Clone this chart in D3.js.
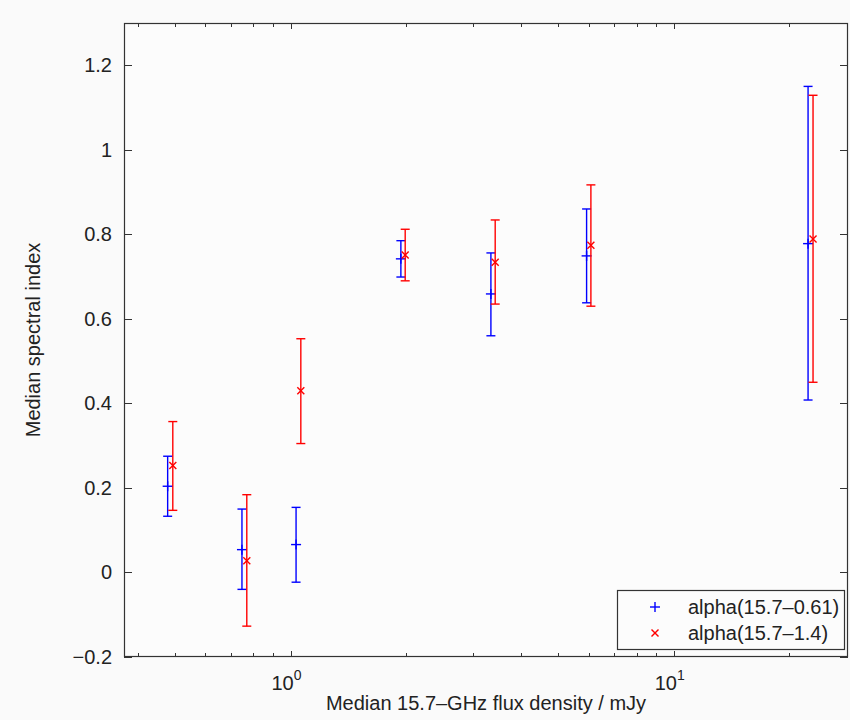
<!DOCTYPE html>
<html>
<head>
<meta charset="utf-8">
<script src="https://cdn.jsdelivr.net/npm/d3@7"></script>
<style>
  html, body { margin: 0; padding: 0; background: #fafafa; }
  svg { display: block; }
  text { font-family: "Liberation Sans", Arial, Helvetica, sans-serif; fill: #222; }
</style>
</head>
<body>
<svg id="chart" width="850" height="720"></svg>
<script>
// ---- data ----
const xBlue  = [0.478, 0.747, 1.034, 1.941, 3.334, 5.925, 22.42];
const yBlue  = [0.204, 0.054, 0.066, 0.742, 0.659, 0.749, 0.778];
const loBlue = [0.133, -0.040, -0.023, 0.699, 0.560, 0.638, 0.408];
const hiBlue = [0.275, 0.150, 0.154, 0.785, 0.756, 0.860, 1.150];

const xRed  = [0.493, 0.769, 1.064, 1.992, 3.421, 6.080, 23.10];
const yRed  = [0.253, 0.028, 0.430, 0.751, 0.734, 0.774, 0.789];
const loRed = [0.147, -0.127, 0.305, 0.690, 0.635, 0.630, 0.450];
const hiRed = [0.357, 0.184, 0.553, 0.812, 0.834, 0.917, 1.129];

const seriesNames = ["alpha(15.7\u20130.61)", "alpha(15.7\u20131.4)"];
const yTicks = [-0.2, 0, 0.2, 0.4, 0.6, 0.8, 1, 1.2];
const yTickLabels = ["\u22120.2", "0", "0.2", "0.4", "0.6", "0.8", "1", "1.2"];
const xMajorTicks = [1, 10];
const xMajorExp = ["0", "1"];
const xMinorTicks = [0.4, 0.5, 0.6, 0.7, 0.8, 0.9, 2, 3, 4, 5, 6, 7, 8, 9, 20];
const xLabel = "Median 15.7\u2013GHz flux density / mJy";
const yLabel = "Median spectral index";

// ---- layout ----
const L = 124, R = 848, T = 23, B = 657;
const FS = 20;
const svg = d3.select("#chart");
const x = d3.scaleLog().domain([0.3677, 28.5]).range([L, R]);
const y = d3.scaleLinear().domain([-0.2, 1.3]).range([B, T]);

svg.append("rect").attr("x", 0).attr("y", 0).attr("width", 850).attr("height", 720).attr("fill", "#fafafa");
svg.append("rect").attr("x", L).attr("y", T).attr("width", R - L).attr("height", B - T).attr("fill", "#fcfcfc");

const axisColor = "#333";
const ax = svg.append("g").attr("stroke", axisColor).attr("stroke-width", 1).attr("fill", "none");

// y ticks (left and right, inward)
yTicks.forEach(v => {
  const yy = Math.round(y(v)) + 0.5;
  ax.append("line").attr("x1", L).attr("x2", L + 8).attr("y1", yy).attr("y2", yy);
  ax.append("line").attr("x1", R).attr("x2", R - 8).attr("y1", yy).attr("y2", yy);
});
// x ticks (bottom and top, inward)
xMajorTicks.forEach(v => {
  const xx = Math.round(x(v)) + 0.5;
  ax.append("line").attr("x1", xx).attr("x2", xx).attr("y1", B).attr("y2", B - 6);
  ax.append("line").attr("x1", xx).attr("x2", xx).attr("y1", T).attr("y2", T + 6);
});
xMinorTicks.forEach(v => {
  const xx = Math.round(x(v)) + 0.5;
  ax.append("line").attr("x1", xx).attr("x2", xx).attr("y1", B).attr("y2", B - 4);
  ax.append("line").attr("x1", xx).attr("x2", xx).attr("y1", T).attr("y2", T + 4);
});

// y tick labels
yTicks.forEach((v, i) => {
  svg.append("text").attr("x", L - 12).attr("y", y(v)).attr("dy", "0.35em")
    .attr("text-anchor", "end").attr("font-size", FS).text(yTickLabels[i]);
});
// x tick labels with superscript exponent
xMajorTicks.forEach((v, i) => {
  const t = svg.append("text").attr("x", x(v) - 4).attr("y", 690)
    .attr("text-anchor", "middle").attr("font-size", FS);
  t.append("tspan").text("10");
  t.append("tspan").attr("dy", -10).attr("font-size", 14).text(xMajorExp[i]);
});

// axis titles
svg.append("text").attr("x", (L + R) / 2).attr("y", 710).attr("text-anchor", "middle")
  .attr("font-size", FS).text(xLabel);
svg.append("text").attr("transform", `translate(40,${(T + B) / 2}) rotate(-90)`)
  .attr("text-anchor", "middle").attr("font-size", FS).text(yLabel);

// ---- error bars ----
function drawSeries(xs, ys, lo, hi, color, marker) {
  const g = svg.append("g").attr("stroke", color).attr("stroke-width", 1.4).attr("fill", "none");
  xs.forEach((xv, i) => {
    const cx = x(xv);
    g.append("line").attr("x1", cx).attr("x2", cx).attr("y1", y(lo[i])).attr("y2", y(hi[i]));
    g.append("line").attr("x1", cx - 4.5).attr("x2", cx + 4.5).attr("y1", y(lo[i])).attr("y2", y(lo[i]));
    g.append("line").attr("x1", cx - 4.5).attr("x2", cx + 4.5).attr("y1", y(hi[i])).attr("y2", y(hi[i]));
    drawMarker(g, marker, cx, y(ys[i]));
  });
}
function drawMarker(g, marker, cx, cy) {
  if (marker === "plus") {
    g.append("line").attr("x1", cx - 5).attr("x2", cx + 5).attr("y1", cy).attr("y2", cy);
    g.append("line").attr("x1", cx).attr("x2", cx).attr("y1", cy - 5).attr("y2", cy + 5);
  } else {
    const s = 3.5;
    g.append("line").attr("x1", cx - s).attr("x2", cx + s).attr("y1", cy - s).attr("y2", cy + s);
    g.append("line").attr("x1", cx - s).attr("x2", cx + s).attr("y1", cy + s).attr("y2", cy - s);
  }
}
drawSeries(xBlue, yBlue, loBlue, hiBlue, "#0000ff", "plus");
drawSeries(xRed, yRed, loRed, hiRed, "#ff0000", "cross");

// frame
svg.append("rect").attr("x", L + 0.5).attr("y", T + 0.5).attr("width", R - L - 1).attr("height", B - T - 1)
  .attr("fill", "none").attr("stroke", axisColor).attr("stroke-width", 1.2);

// ---- legend ----
const lg = svg.append("g");
lg.append("rect").attr("x", 617.5).attr("y", 590.5).attr("width", 227).attr("height", 59)
  .attr("fill", "#fcfcfc").attr("stroke", axisColor).attr("stroke-width", 1.2);
const colors = ["#0000ff", "#ff0000"];
const markers = ["plus", "cross"];
seriesNames.forEach((name, i) => {
  const cy = 607 + i * 26;
  const mg = lg.append("g").attr("stroke", colors[i]).attr("stroke-width", 1.4);
  drawMarker(mg, markers[i], 655, cy);
  lg.append("text").attr("x", 688).attr("y", cy).attr("dy", "0.35em").attr("font-size", FS).text(name);
});
</script>
</body>
</html>
